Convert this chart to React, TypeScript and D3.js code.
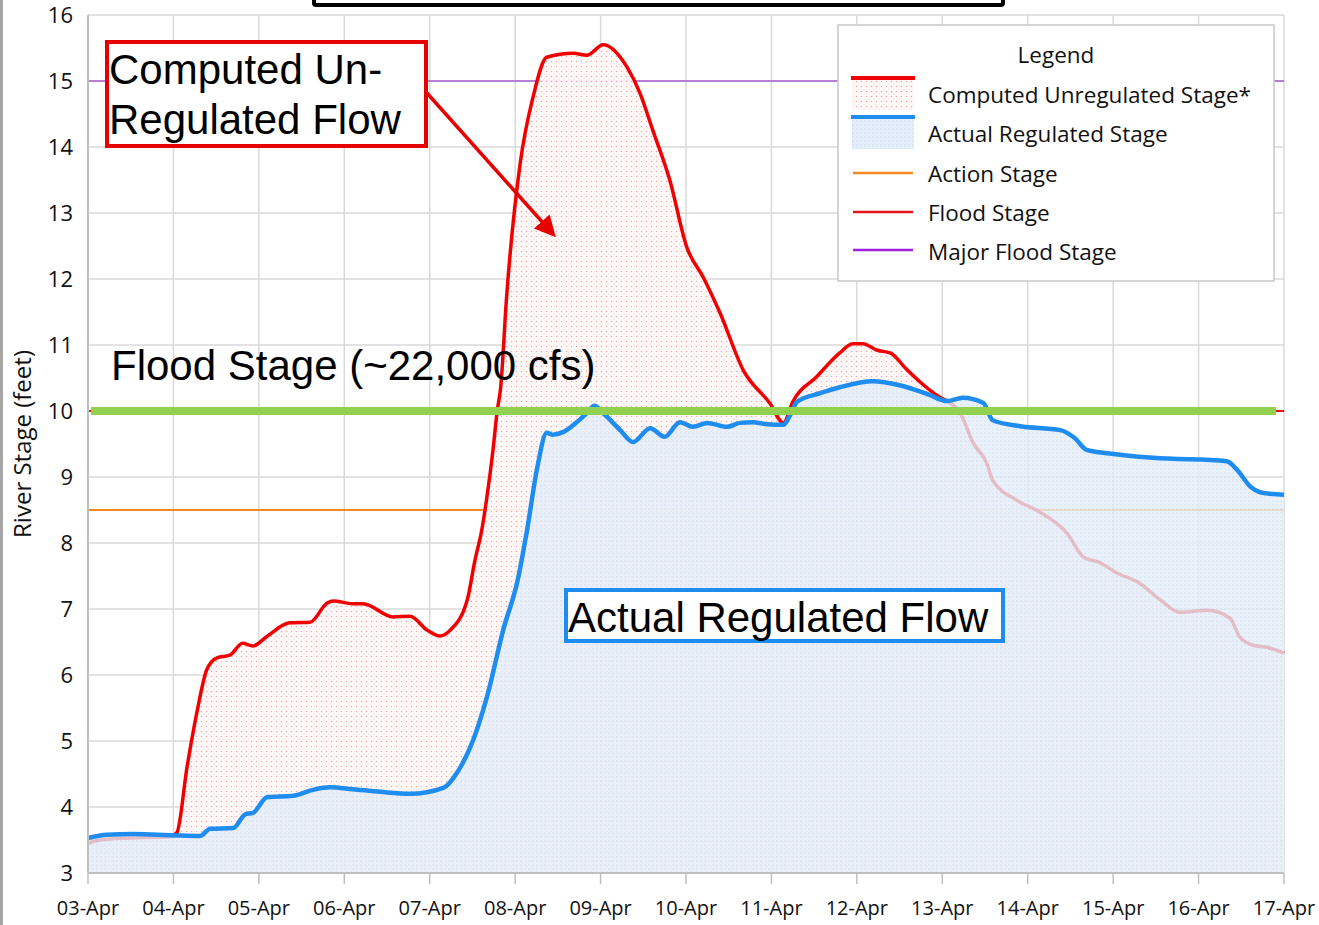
import React, { useEffect, useRef } from 'react';
import * as d3 from 'd3';

// day offsets from 03-Apr, stage in feet
const unregDays = [0, 0.14, 0.49, 0.96, 1.04, 1.16, 1.28, 1.39, 1.51, 1.66, 1.81, 1.93, 2.09, 2.36, 2.6, 2.8, 2.87, 3.1, 3.22, 3.57, 3.77, 3.97, 4.12, 4.24, 4.44, 4.53, 4.61, 4.67, 4.74, 4.79, 4.83, 4.9, 5.06, 5.21, 5.37, 5.68, 5.84, 6.03, 6.31, 6.46, 6.61, 6.81, 7.01, 7.2, 7.4, 7.67, 7.98, 8.14, 8.25, 8.53, 8.8, 8.95, 9.07, 9.24, 9.39, 9.59, 9.74, 9.97, 10.07, 10.21, 10.36, 10.52, 10.59, 10.87, 11.14, 11.46, 11.65, 11.85, 12.04, 12.31, 12.55, 12.78, 13.1, 13.37, 13.48, 13.64, 13.8, 14];
const unregStage = [3.45, 3.5, 3.53, 3.55, 3.61, 4.61, 5.47, 6.08, 6.26, 6.3, 6.48, 6.44, 6.58, 6.79, 6.8, 7.09, 7.12, 7.08, 7.08, 6.88, 6.89, 6.68, 6.59, 6.68, 7.14, 7.74, 8.2, 8.7, 9.4, 10.0, 10.35, 11.73, 13.76, 14.76, 15.36, 15.42, 15.39, 15.55, 15.21, 14.82, 14.26, 13.5, 12.48, 12.03, 11.48, 10.62, 10.12, 9.82, 10.14, 10.52, 10.88, 11.02, 11.02, 10.92, 10.88, 10.62, 10.44, 10.21, 10.14, 9.97, 9.52, 9.21, 8.95, 8.65, 8.47, 8.15, 7.79, 7.7, 7.55, 7.39, 7.14, 6.95, 6.98, 6.86, 6.58, 6.45, 6.42, 6.33];

const regDays = [0, 0.22, 0.53, 1.0, 1.31, 1.43, 1.7, 1.84, 1.93, 2.1, 2.4, 2.63, 2.83, 3.1, 3.42, 3.77, 4.16, 4.32, 4.51, 4.67, 4.86, 5.03, 5.14, 5.26, 5.37, 5.44, 5.56, 5.72, 5.84, 5.93, 6.03, 6.23, 6.38, 6.58, 6.75, 6.93, 7.08, 7.25, 7.48, 7.63, 7.78, 7.95, 8.14, 8.22, 8.3, 8.57, 8.8, 9.19, 9.5, 9.82, 10.06, 10.24, 10.48, 10.59, 10.91, 11.38, 11.55, 11.69, 11.93, 12.47, 13.33, 13.45, 13.61, 13.72, 14];
const regStage = [3.53, 3.58, 3.59, 3.57, 3.56, 3.67, 3.68, 3.89, 3.91, 4.15, 4.17, 4.26, 4.3, 4.27, 4.23, 4.2, 4.29, 4.52, 5.02, 5.67, 6.68, 7.44, 8.2, 9.15, 9.67, 9.64, 9.68, 9.83, 9.97, 10.08, 9.97, 9.71, 9.53, 9.74, 9.61, 9.83, 9.76, 9.82, 9.76, 9.82, 9.83, 9.8, 9.79, 9.94, 10.14, 10.27, 10.36, 10.45, 10.39, 10.26, 10.15, 10.2, 10.12, 9.86, 9.77, 9.71, 9.59, 9.41, 9.36, 9.29, 9.24, 9.11, 8.85, 8.77, 8.73];

const dayLabels = ['03-Apr', '04-Apr', '05-Apr', '06-Apr', '07-Apr', '08-Apr', '09-Apr', '10-Apr', '11-Apr', '12-Apr', '13-Apr', '14-Apr', '15-Apr', '16-Apr', '17-Apr'];
const stageTicks = [3, 4, 5, 6, 7, 8, 9, 10, 11, 12, 13, 14, 15, 16];

const actionStage = 8.5;
const floodStage = 10;
const majorFloodStage = 15;

const legendNames = ['Computed Unregulated Stage*', 'Actual Regulated Stage', 'Action Stage', 'Flood Stage', 'Major Flood Stage'];

const App: React.FC = () => {
  const svgRef = useRef<SVGSVGElement>(null);

  useEffect(() => {
    const svg = d3.select(svgRef.current);
    svg.selectAll('*').remove();
    const left = 88, right = 1284, top = 15, bottom = 873;
    const axisFont = "'Open Sans', sans-serif";
    const annFont = "'Liberation Sans', Arial, sans-serif";

    const x = d3.scaleLinear().domain([0, 14]).range([left, right]);
    const y = d3.scaleLinear().domain([3, 16]).range([bottom, top]);

    const defs = svg.append('defs');
    const pr = defs.append('pattern').attr('id', 'redDots').attr('patternUnits', 'userSpaceOnUse')
      .attr('width', 5).attr('height', 5);
    pr.append('rect').attr('width', 5).attr('height', 5).attr('fill', '#fffafa');
    pr.append('circle').attr('cx', 1.5).attr('cy', 1.5).attr('r', 0.8).attr('fill', '#f3a0a0');
    pr.append('circle').attr('cx', 4).attr('cy', 4).attr('r', 0.6).attr('fill', '#f8cccc');
    const pb = defs.append('pattern').attr('id', 'blueDots').attr('patternUnits', 'userSpaceOnUse')
      .attr('width', 4).attr('height', 4);
    pb.append('rect').attr('width', 4).attr('height', 4).attr('fill', '#e4eefa');
    pb.append('circle').attr('cx', 1).attr('cy', 1).attr('r', 0.8).attr('fill', '#c9dcf2');
    defs.append('marker').attr('id', 'arrowHead').attr('viewBox', '0 0 10 10')
      .attr('refX', 8).attr('refY', 5).attr('markerWidth', 6).attr('markerHeight', 6)
      .attr('markerUnits', 'strokeWidth').attr('orient', 'auto')
      .append('path').attr('d', 'M0,0 L10,5 L0,10 z').attr('fill', '#e60000');

    svg.append('rect').attr('x', 0).attr('y', 0).attr('width', 1319).attr('height', 925).attr('fill', '#fff');
    svg.append('rect').attr('x', 0).attr('y', 0).attr('width', 3).attr('height', 925).attr('fill', '#a6a6a6');

    // grid
    const grid = svg.append('g');
    grid.selectAll('.hg').data(stageTicks).enter().append('line')
      .attr('x1', left).attr('x2', right).attr('y1', d => y(d)).attr('y2', d => y(d))
      .attr('stroke', '#d9d9d9').attr('stroke-width', 1.5);
    grid.selectAll('.vg').data(dayLabels).enter().append('line')
      .attr('x1', (d, i) => x(i)).attr('x2', (d, i) => x(i)).attr('y1', top).attr('y2', bottom)
      .attr('stroke', '#d9d9d9').attr('stroke-width', 1.5);

    // reference stages
    const refs: [number, string][] = [[actionStage, '#f5881f'], [floodStage, '#e8141c'], [majorFloodStage, '#b77ed6']];
    svg.selectAll('.ref').data(refs).enter().append('line')
      .attr('x1', left).attr('x2', right).attr('y1', d => y(d[0])).attr('y2', d => y(d[0]))
      .attr('stroke', d => d[1]).attr('stroke-width', 2);

    const unreg = unregDays.map((d, i) => [d, unregStage[i]] as [number, number]);
    const reg = regDays.map((d, i) => [d, regStage[i]] as [number, number]);
    const area = d3.area<[number, number]>().x(d => x(d[0])).y0(y(3)).y1(d => y(d[1])).curve(d3.curveMonotoneX);
    const line = d3.line<[number, number]>().x(d => x(d[0])).y(d => y(d[1])).curve(d3.curveMonotoneX);

    svg.append('path').datum(unreg).attr('d', area).attr('fill', 'url(#redDots)').attr('opacity', 0.92);
    svg.append('path').datum(unreg).attr('d', line).attr('fill', 'none').attr('stroke', '#f00000').attr('stroke-width', 3.5);
    svg.append('path').datum(reg).attr('d', area).attr('fill', 'url(#blueDots)').attr('opacity', 0.8);
    svg.append('path').datum(reg).attr('d', line).attr('fill', 'none').attr('stroke', '#1f8cf0').attr('stroke-width', 4.5);

    // axes
    svg.append('line').attr('x1', left).attr('x2', right).attr('y1', bottom).attr('y2', bottom)
      .attr('stroke', '#bfbfbf').attr('stroke-width', 2);
    svg.append('line').attr('x1', left).attr('x2', left).attr('y1', top).attr('y2', bottom)
      .attr('stroke', '#bfbfbf').attr('stroke-width', 2);
    svg.selectAll('.xt').data(dayLabels).enter().append('line')
      .attr('x1', (d, i) => x(i)).attr('x2', (d, i) => x(i)).attr('y1', bottom).attr('y2', bottom + 11)
      .attr('stroke', '#bfbfbf').attr('stroke-width', 1.5);
    svg.selectAll('.xl').data(dayLabels).enter().append('text')
      .attr('x', (d, i) => x(i)).attr('y', 915).attr('text-anchor', 'middle')
      .attr('font-family', axisFont).attr('font-size', 20).attr('fill', '#111').text(d => d);
    svg.selectAll('.yl').data(stageTicks).enter().append('text')
      .attr('x', 73).attr('y', d => y(d) + 8).attr('text-anchor', 'end')
      .attr('font-family', axisFont).attr('font-size', 22).attr('fill', '#111').text(d => d);
    svg.append('text').attr('transform', `translate(31,${444}) rotate(-90)`).attr('text-anchor', 'middle')
      .attr('font-family', axisFont).attr('font-size', 24).attr('fill', '#111').text('River Stage (feet)');

    // flood stage marker
    svg.append('line').attr('x1', 91).attr('x2', 1276).attr('y1', y(floodStage)).attr('y2', y(floodStage))
      .attr('stroke', '#92d050').attr('stroke-width', 8);

    // top box
    svg.append('rect').attr('x', 314).attr('y', -30).attr('width', 689).attr('height', 35).attr('rx', 2)
      .attr('fill', '#fff').attr('stroke', '#000').attr('stroke-width', 4);

    // annotations
    svg.append('rect').attr('x', 107).attr('y', 42).attr('width', 319).attr('height', 104)
      .attr('fill', '#fff').attr('stroke', '#e60000').attr('stroke-width', 4);
    const ann = svg.append('text').attr('font-family', annFont).attr('font-size', 42).attr('fill', '#000');
    ann.append('tspan').attr('x', 109).attr('y', 84).text('Computed Un-');
    ann.append('tspan').attr('x', 109).attr('y', 134).text('Regulated Flow');
    svg.append('line').attr('x1', 426).attr('y1', 92).attr('x2', 553).attr('y2', 234)
      .attr('stroke', '#e60000').attr('stroke-width', 3.5).attr('marker-end', 'url(#arrowHead)');

    svg.append('text').attr('x', 111).attr('y', 380).attr('font-family', annFont).attr('font-size', 42)
      .attr('fill', '#000').text('Flood Stage (~22,000 cfs)');

    svg.append('rect').attr('x', 566).attr('y', 590).attr('width', 437).attr('height', 51)
      .attr('fill', '#fff').attr('stroke', '#1f8cf0').attr('stroke-width', 4);
    svg.append('text').attr('x', 568).attr('y', 632).attr('font-family', annFont).attr('font-size', 42)
      .attr('fill', '#000').text('Actual Regulated Flow');

    // legend
    const lg = svg.append('g');
    lg.append('rect').attr('x', 838).attr('y', 25).attr('width', 436).attr('height', 256)
      .attr('fill', '#fff').attr('stroke', '#c8c8c8').attr('stroke-width', 1.5);
    lg.append('text').attr('x', 1056).attr('y', 63).attr('text-anchor', 'middle')
      .attr('font-family', axisFont).attr('font-size', 22.5).attr('fill', '#111').text('Legend');
    lg.append('rect').attr('x', 852).attr('y', 80).attr('width', 62).attr('height', 30).attr('fill', 'url(#redDots)');
    lg.append('line').attr('x1', 851).attr('x2', 915).attr('y1', 78).attr('y2', 78).attr('stroke', '#f00000').attr('stroke-width', 4);
    lg.append('rect').attr('x', 852).attr('y', 119).attr('width', 62).attr('height', 30).attr('fill', 'url(#blueDots)');
    lg.append('line').attr('x1', 851).attr('x2', 915).attr('y1', 117).attr('y2', 117).attr('stroke', '#1f8cf0').attr('stroke-width', 4);
    const lineColors = ['#f5881f', '#e8141c', '#a020e0'];
    const lineYs = [173, 212, 250];
    lg.selectAll('.ll').data(lineColors).enter().append('line')
      .attr('x1', 853).attr('x2', 913).attr('y1', (d, i) => lineYs[i]).attr('y2', (d, i) => lineYs[i])
      .attr('stroke', d => d).attr('stroke-width', 2.5);
    const textYs = [103, 142, 182, 221, 260];
    lg.selectAll('.lt').data(legendNames).enter().append('text')
      .attr('x', 928).attr('y', (d, i) => textYs[i]).attr('font-family', axisFont).attr('font-size', 22.5)
      .attr('fill', '#111').text(d => d);
  }, []);

  return <svg ref={svgRef} width={1319} height={925} style={{ position: 'absolute', left: 0, top: 0, display: 'block' }}></svg>;
};

export default App;
